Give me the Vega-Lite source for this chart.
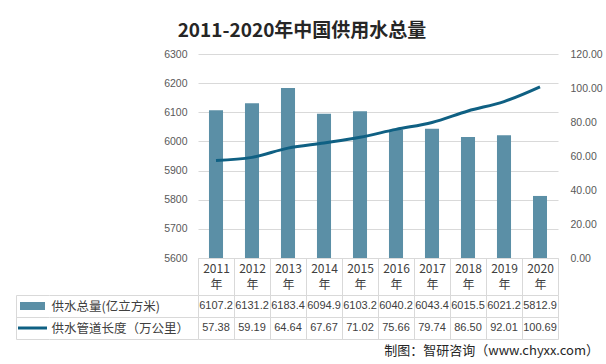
{
  "$schema": "https://vega.github.io/schema/vega-lite/v6.json",
  "datasets": {
    "main": [
      {"year": "2011年", "supply": 6107.2, "pipe": 57.38},
      {"year": "2012年", "supply": 6131.2, "pipe": 59.19},
      {"year": "2013年", "supply": 6183.4, "pipe": 64.64},
      {"year": "2014年", "supply": 6094.9, "pipe": 67.67},
      {"year": "2015年", "supply": 6103.2, "pipe": 71.02},
      {"year": "2016年", "supply": 6040.2, "pipe": 75.66},
      {"year": "2017年", "supply": 6043.4, "pipe": 79.74},
      {"year": "2018年", "supply": 6015.5, "pipe": 86.50},
      {"year": "2019年", "supply": 6021.2, "pipe": 92.01},
      {"year": "2020年", "supply": 5812.9, "pipe": 100.69}
    ],
    "rows": [
      {"series": "供水总量(亿立方米)", "kind": "bar"},
      {"series": "供水管道长度（万公里）", "kind": "line"}
    ]
  },
  "padding": {"left": 12, "top": 22, "right": 0, "bottom": 0},
  "background": "white",
  "columns": 3,
  "spacing": {"row": 37, "column": 0},
  "bounds": "flush",
  "align": "each",
  "config": {"view": {"stroke": null}, "axis": {"labelFont": "Liberation Sans", "labelColor": "#595959"}},
  "concat": [
    {"width": 33, "height": 204, "data": {"values": [{}]}, "mark": {"type": "text"}, "encoding": {"text": {"value": ""}}},
    {"width": 149, "height": 204, "data": {"values": [{}]}, "mark": {"type": "text"}, "encoding": {"text": {"value": ""}}},
    {
      "width": 360, "height": 204,
      "title": {"text": "2011-2020年中国供用水总量", "fontSize": 19, "font": "Noto Sans CJK SC", "fontWeight": "bold", "color": "#262626", "anchor": "middle", "frame": "group", "dx": -76, "offset": 8},
      "data": {"name": "main"},
      "encoding": {
        "x": {"field": "year", "type": "nominal", "sort": null,
          "scale": {"paddingInner": 0, "paddingOuter": 0},
          "axis": {"title": null, "domain": true, "domainColor": "#d9d9d9", "ticks": true, "tickBand": "extent", "tickSize": 37, "tickColor": "#d9d9d9",
            "labelPadding": -32, "labelExpr": "[substring(datum.label,0,4), substring(datum.label,4)]",
            "labelFont": "Noto Sans CJK SC", "labelFontSize": 12, "labelLineHeight": 16.5, "labelColor": "#404040", "labelAngle": 0}}
      },
      "layer": [
        {
          "mark": {"type": "bar", "color": "#5b8fa6", "width": {"band": 0.39}},
          "encoding": {
            "y": {"field": "supply", "type": "quantitative",
              "scale": {"domain": [5600, 6300], "zero": false, "nice": false},
              "axis": {"orient": "left", "title": null, "values": [5600, 5700, 5800, 5900, 6000, 6100, 6200, 6300], "format": "d", "grid": true, "gridColor": "#d9d9d9", "domain": false, "ticks": false, "labelPadding": 11, "labelFontSize": 10.5}},
            "y2": {"datum": 5600}
          }
        },
        {
          "mark": {"type": "line", "color": "#0f6083", "strokeWidth": 3, "interpolate": "monotone"},
          "encoding": {
            "y": {"field": "pipe", "type": "quantitative",
              "scale": {"domain": [0, 120], "nice": false},
              "axis": {"orient": "right", "title": null, "values": [0, 20, 40, 60, 80, 100, 120], "format": ".2f", "grid": false, "domain": false, "ticks": false, "labelPadding": 12, "labelFontSize": 10.5}}
          }
        }
      ],
      "resolve": {"scale": {"y": "independent"}}
    },
    {
      "width": 33, "height": 44,
      "data": {"name": "rows"},
      "encoding": {
        "y": {"field": "series", "type": "nominal", "sort": null,
          "scale": {"domain": ["供水总量(亿立方米)", "供水管道长度（万公里）"], "paddingInner": 0, "paddingOuter": 0},
          "axis": {"orient": "left", "title": null, "labels": false, "ticks": false, "domain": true, "domainColor": "#d9d9d9", "grid": true, "gridColor": "#d9d9d9", "tickBand": "extent"}}
      },
      "layer": [
        {"transform": [{"filter": "datum.kind === 'bar'"}],
         "mark": {"type": "point", "shape": "M-1,-0.32H1V0.32H-1Z", "filled": true, "color": "#5b8fa6", "size": 625, "opacity": 1}},
        {"transform": [{"filter": "datum.kind === 'line'"}],
         "mark": {"type": "point", "shape": "M-1,0H1", "filled": false, "color": "#0f6083", "strokeWidth": 3, "size": 841, "opacity": 1}}
      ]
    },
    {
      "width": 149, "height": 44,
      "data": {"name": "rows"},
      "mark": {"type": "text", "text": ""},
      "encoding": {
        "y": {"field": "series", "type": "nominal", "sort": null,
          "scale": {"domain": ["供水总量(亿立方米)", "供水管道长度（万公里）"], "paddingInner": 0, "paddingOuter": 0},
          "axis": {"orient": "left", "title": null, "labelAlign": "left", "labelPadding": -2, "labelFont": "Noto Sans CJK SC", "labelFontSize": 12.5, "labelColor": "#404040", "labelLimit": 200, "ticks": false, "domain": false, "grid": true, "gridColor": "#d9d9d9", "tickBand": "extent"}}
      }
    },
    {
      "width": 360, "height": 44,
      "data": {"name": "main"},
      "title": {"text": "制图：智研咨询（www.chyxx.com）", "orient": "bottom", "anchor": "end", "frame": "group", "dx": 41, "offset": 6, "fontSize": 13, "fontWeight": "normal", "font": "Noto Sans CJK SC", "color": "#262626"},
      "encoding": {
        "x": {"field": "year", "type": "nominal", "sort": null,
          "scale": {"paddingInner": 0, "paddingOuter": 0},
          "axis": {"orient": "bottom", "title": null, "labels": false, "ticks": false, "domain": false, "grid": true, "gridColor": "#d9d9d9", "tickBand": "extent"}}
      },
      "layer": [
        {"mark": {"type": "text", "font": "Liberation Sans", "fontSize": 11, "color": "#404040"},
         "encoding": {
           "y": {"datum": "供水总量(亿立方米)", "type": "nominal",
             "scale": {"domain": ["供水总量(亿立方米)", "供水管道长度（万公里）"], "paddingInner": 0, "paddingOuter": 0},
             "axis": {"title": null, "labels": false, "ticks": false, "domain": false, "grid": true, "gridColor": "#d9d9d9", "tickBand": "extent"}},
           "text": {"field": "supply", "type": "quantitative", "format": ".1f"}
         }},
        {"mark": {"type": "text", "font": "Liberation Sans", "fontSize": 11, "color": "#404040"},
         "encoding": {
           "y": {"datum": "供水管道长度（万公里）", "type": "nominal"},
           "text": {"field": "pipe", "type": "quantitative", "format": ".2f"}
         }}
      ]
    }
  ]
}
